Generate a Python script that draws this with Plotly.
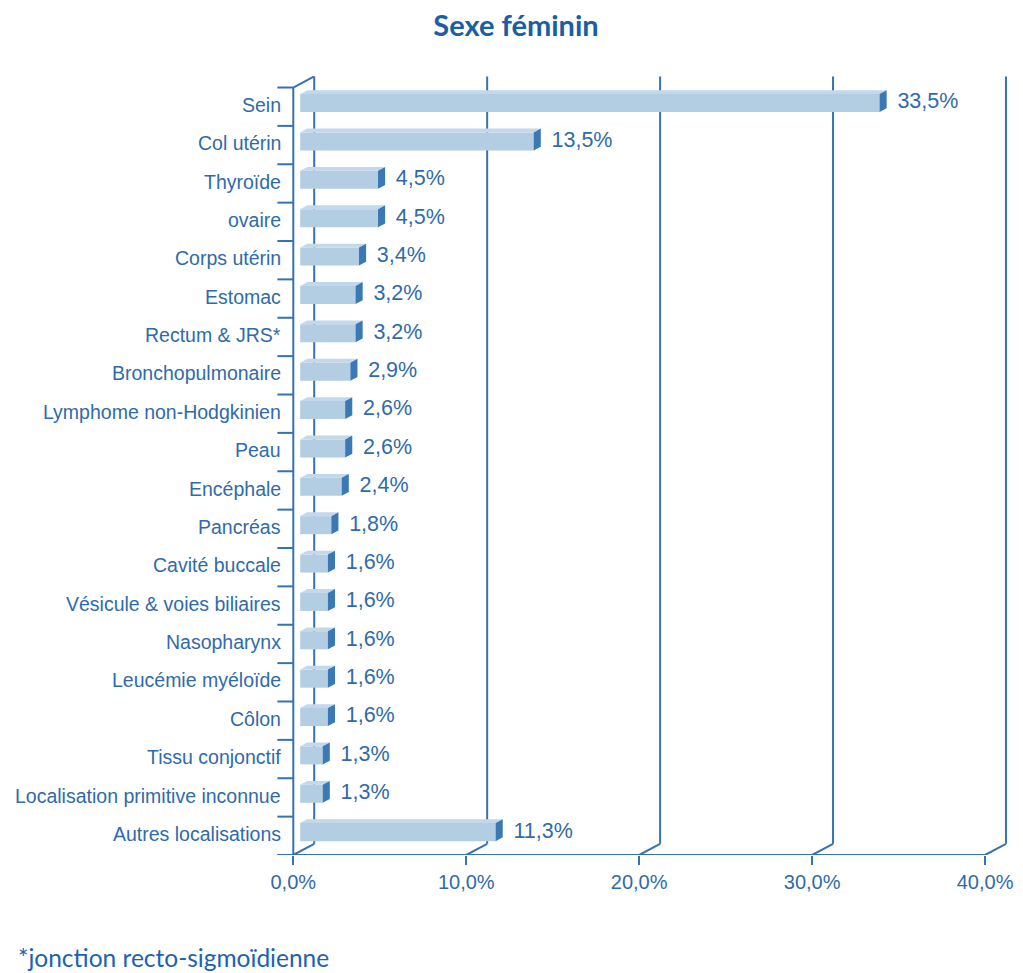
import plotly.graph_objects as go

# Cancer localisations, female sex (share of cases, %)
categories = [
    "Sein", "Col utérin", "Thyroïde", "ovaire", "Corps utérin", "Estomac",
    "Rectum & JRS*", "Bronchopulmonaire", "Lymphome non-Hodgkinien", "Peau",
    "Encéphale", "Pancréas", "Cavité buccale", "Vésicule & voies biliaires",
    "Nasopharynx", "Leucémie myéloïde", "Côlon", "Tissu conjonctif",
    "Localisation primitive inconnue", "Autres localisations",
]
values = [33.5, 13.5, 4.5, 4.5, 3.4, 3.2, 3.2, 2.9, 2.6, 2.6,
          2.4, 1.8, 1.6, 1.6, 1.6, 1.6, 1.6, 1.3, 1.3, 11.3]
x_ticks = [0, 10, 20, 30, 40]
x_tick_labels = ["0,0%", "10,0%", "20,0%", "30,0%", "40,0%"]

TITLE = "Sexe féminin"
FOOTNOTE = "*jonction recto-sigmoïdienne"

# Styling / pseudo-3D geometry (axis units)
LINE = "#3673ae"
TEXT = "#2f6ba8"
FRONT = "#b3cde3"
SIDE = "#3b79b4"
TOP = "#c3d8ea"
DEPTH_X = 1.21      # wall depth along x
DEPTH_Y = 0.29      # wall depth along y (upwards)
F0, F1 = 0.33, 0.67  # bar depth span inside the wall
BAR_H = 0.47
TICK_L = 0.92

n = len(categories)
idx = list(range(n))
y_top, y_bot = -0.5, n - 0.5

fig = go.Figure()

# back wall: left edge, gridlines and floor diagonals
shapes = []
line = dict(color=LINE, width=2)
for k in [0] + x_ticks[1:]:
    xb = k + DEPTH_X
    shapes.append(dict(type="line", xref="x", yref="y", layer="below",
                       x0=xb, x1=xb, y0=y_top - DEPTH_Y, y1=y_bot - DEPTH_Y, line=line))
    shapes.append(dict(type="line", xref="x", yref="y", layer="below",
                       x0=k, x1=xb, y0=y_bot, y1=y_bot - DEPTH_Y, line=line))
# top-left diagonal
shapes.append(dict(type="line", xref="x", yref="y", layer="below",
                   x0=0, x1=DEPTH_X, y0=y_top, y1=y_top - DEPTH_Y, line=line))
# front vertical axis and category boundary ticks
shapes.append(dict(type="line", xref="x", yref="y", layer="above",
                   x0=0, x1=0, y0=y_top, y1=y_bot, line=line))
for b in range(n + 1):
    yb = b - 0.5
    shapes.append(dict(type="line", xref="x", yref="y", layer="above",
                       x0=-TICK_L, x1=0, y0=yb, y1=yb, line=line))
# front horizontal axis
shapes.append(dict(type="line", xref="x", yref="y", layer="above",
                   x0=-TICK_L, x1=x_ticks[-1], y0=y_bot, y1=y_bot, line=line))

# bar geometry
a_x = F0 * DEPTH_X
a_y = F0 * DEPTH_Y
d_x = (F1 - F0) * DEPTH_X
d_y = (F1 - F0) * DEPTH_Y
yc = [i - a_y for i in idx]

# top faces
tx, ty = [], []
for v, c in zip(values, yc):
    t = c - BAR_H / 2
    tx += [a_x, a_x + v, a_x + v + d_x, a_x + d_x, a_x, None]
    ty += [t, t, t - d_y, t - d_y, t, None]
fig.add_trace(go.Scatter(x=tx, y=ty, mode="lines", fill="toself",
                         fillcolor=TOP, line=dict(width=0, color=TOP),
                         hoverinfo="skip", showlegend=False))

# side faces
sx, sy = [], []
for v, c in zip(values, yc):
    t, b = c - BAR_H / 2, c + BAR_H / 2
    e = a_x + v
    sx += [e, e, e + d_x, e + d_x, e, None]
    sy += [t, b, b - d_y, t - d_y, t, None]
fig.add_trace(go.Scatter(x=sx, y=sy, mode="lines", fill="toself",
                         fillcolor=SIDE, line=dict(width=0, color=SIDE),
                         hoverinfo="skip", showlegend=False))

# front faces
fig.add_trace(go.Bar(
    y=yc, x=values, base=[a_x] * n, orientation="h", width=BAR_H,
    marker=dict(color=FRONT, line=dict(width=0)),
    hoverinfo="skip", showlegend=False,
))

# value labels
fig.add_trace(go.Scatter(
    x=[v + a_x + d_x + 0.62 for v in values], y=yc, mode="text",
    text=[f"{v:.1f}%".replace(".", ",") for v in values],
    textposition="middle right",
    textfont=dict(family="Liberation Sans, Arial", size=21.5, color=TEXT),
    hoverinfo="skip", showlegend=False,
))

annotations = []
for i, name in zip(idx, categories):
    annotations.append(dict(
        x=-0.58, y=i - 0.05, xref="x", yref="y", text=name, showarrow=False,
        xanchor="right", yanchor="middle",
        font=dict(family="Liberation Sans, Arial", size=19.5, color=TEXT),
    ))
annotations.append(dict(
    x=-(275.6 - 14) / 738.4, y=-(974 - 855) / 779.5, xref="paper", yref="paper",
    text=FOOTNOTE, showarrow=False, xanchor="left", yanchor="bottom",
    font=dict(family="Lato", size=24.5, color="#1b63ae"),
))

fig.update_layout(
    width=1023, height=973, autosize=False,
    margin=dict(l=275.6, r=9, t=75.5, b=117.5),
    paper_bgcolor="white", plot_bgcolor="white",
    title=dict(text=f"<b>{TITLE}</b>", x=516 / 1023, xref="container", xanchor="center",
               y=1 - 26 / 973, yref="container", yanchor="middle",
               font=dict(family="Lato", size=29, color="#1a5ea4")),
    xaxis=dict(range=[-1.0, 41.5], tickvals=x_ticks, ticktext=x_tick_labels,
               ticks="outside", ticklen=9, tickwidth=2, tickcolor=LINE,
               showgrid=False, zeroline=False, showline=False,
               tickfont=dict(family="Liberation Sans, Arial", size=20, color=TEXT)),
    yaxis=dict(range=[y_bot, -0.8], showticklabels=False, showgrid=False,
               zeroline=False, showline=False, ticks=""),
    shapes=shapes,
    annotations=annotations,
)

fig.write_html("out.html")
